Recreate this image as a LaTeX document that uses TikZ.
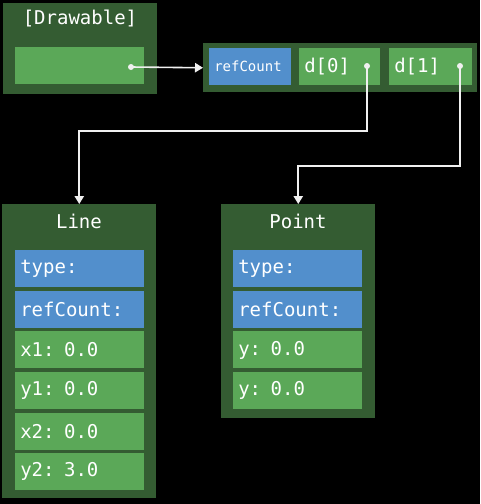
\documentclass[tikz,border=0pt]{standalone}
\usepackage{fontspec}
\setmonofont{DejaVu Sans Mono}
\usetikzlibrary{positioning}
\usetikzlibrary{arrows.meta}
\definecolor{panelgreen}{RGB}{52,92,50}
\definecolor{fieldgreen}{RGB}{91,168,88}
\definecolor{fieldblue}{RGB}{82,143,204}
\definecolor{linkgrey}{RGB}{240,240,240}

\begin{document}
\begin{tikzpicture}[x=0.75pt,y=-0.75pt,
			panel/.style = {
				fill=panelgreen, anchor=north west, inner sep=0pt,
				minimum width=115.5pt
			},
			title/.style = {
				text=white, font=\ttfamily\fontsize{14.25}{16}\selectfont
			},
			field/.style = {
				fill=fieldgreen, text=white, anchor=north west,
				font=\ttfamily\fontsize{14.25}{16}\selectfont,
				minimum height=27.75pt, inner xsep=3.75pt, inner ysep=0pt,
				text width=89.25pt, align=left
			},
			header/.style = {field, fill=fieldblue},
			dot/.style = {circle, fill=linkgrey, inner sep=0pt, minimum size=4.5pt},
			link/.style = {draw=linkgrey, line width=1.2pt, -{Triangle[width=7pt,length=6pt]}},
			node distance=2.3pt
			]
			\fill [black] (0,0) rectangle (480,504);
			% the reference
			\node (drawable) [panel, minimum height=68.25pt] at (3,3) {};
			\node [title] at (80,18) {[Drawable]};
			\node (ptr) [field] at (15,47) {};
			\node (ptrdot) [dot] at (131,67) {};
			% the array of elements
			\node (array) [panel, minimum width=205.5pt, minimum height=36.75pt] at (203,43) {};
			\node (count) [header, text width=54pt,
			font=\ttfamily\fontsize{10.5}{12}\selectfont] at (209,48) {refCount};
			\node (dzero) [field, text width=53.25pt] at (299,48) {d[0]};
			\node (done) [field, text width=54.75pt] at (389,48) {d[1]};
			\node (dzerodot) [dot] at (367,66) {};
			\node (donedot) [dot] at (460,66) {};
			% Line object
			\node (line) [panel, minimum height=220.5pt] at (2,204) {};
			\node [title] at (79,221) {Line};
			\node (ltype) [header] at (15,250) {type:};
			\node (lcount) [header, below=of ltype] {refCount:};
			\node (lxa) [field, below=of lcount] {x1: 0.0};
			\node (lya) [field, below=of lxa] {y1: 0.0};
			\node (lxb) [field, below=of lya] {x2: 0.0};
			\node (lyb) [field, below=of lxb] {y2: 3.0};
			% Point object
			\node (point) [panel, minimum height=160.5pt] at (221,204) {};
			\node [title] at (298,221) {Point};
			\node (ptype) [header] at (233,250) {type:};
			\node (pcount) [header, below=of ptype] {refCount:};
			\node (pya) [field, below=of pcount] {y: 0.0};
			\node (pyb) [field, below=of pya] {y: 0.0};
			% pointers
			\draw [link] (ptrdot.center) -- (array.west);
			\draw [link] (dzerodot.center) -- ++(0,65) -| (line.north);
			\draw [link] (donedot.center) -- ++(0,100) -| (point.north);
		\end{tikzpicture}
\end{document}
